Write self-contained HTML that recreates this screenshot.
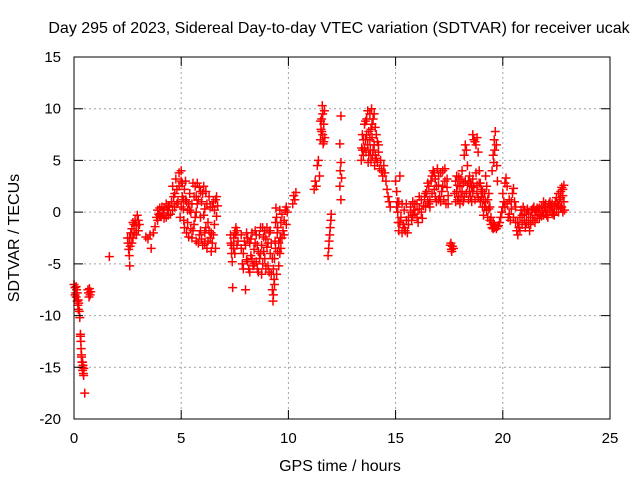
<!DOCTYPE html>
<html><head><meta charset="utf-8"><style>
html,body{margin:0;padding:0;background:#fff;}
svg{display:block;font-family:"Liberation Sans",sans-serif;}
</style></head><body>
<svg id="chart" width="640" height="480" viewBox="0 0 640 480" xmlns="http://www.w3.org/2000/svg">
<rect x="0" y="0" width="640" height="480" fill="#fff"/>
<g id="grid"></g>
<g id="points"></g>
<g id="axes"></g>
<text x="339" y="33" font-size="16" text-anchor="middle">Day 295 of 2023, Sidereal Day-to-day VTEC variation (SDTVAR) for receiver ucak</text>
<text x="340" y="471" font-size="16" text-anchor="middle">GPS time / hours</text>
<text x="19" y="238" font-size="16" text-anchor="middle" transform="rotate(-90 19 238)">SDTVAR / TECUs</text>
</svg>
<script>
const xTicks = [0, 5, 10, 15, 20, 25];
const yTicks = [-20, -15, -10, -5, 0, 5, 10, 15];
const gpsHours = [
0.0,0.05,0.08,0.1,0.12,0.15,0.18,0.2,0.22,0.25,0.27,0.3,0.32,0.33,0.35,0.37,0.38,0.4,0.42,0.44,0.46,0.5,0.65,0.68,0.7,0.72,0.75,0.78,
1.65,
2.5,2.52,2.55,2.58,2.6,2.62,2.65,2.7,2.75,2.8,2.85,2.9,2.95,3.0,3.05,
3.35,3.45,3.55,3.6,3.7,3.78,3.85,3.9,3.95,4.0,4.05,4.1,4.15,4.2,4.3,4.35,4.4,4.45,4.5,
4.55,4.6,4.65,4.7,4.75,4.8,4.85,4.9,4.95,5.0,5.05,5.1,5.12,5.15,5.2,5.25,5.3,5.35,5.4,5.45,5.5,5.55,5.6,5.65,5.7,5.75,5.8,5.85,5.9,5.95,6.0,6.05,6.1,6.15,6.2,6.25,6.3,6.35,6.4,6.45,6.5,6.55,6.6,6.65,6.7,5.0,5.2,5.4,5.5,5.7,5.9,6.1,
7.3,7.32,7.35,7.38,7.4,7.45,7.5,7.55,7.6,7.65,
7.8,7.85,7.9,7.95,8.0,8.05,8.1,8.15,8.2,8.25,8.3,8.35,8.4,8.45,8.5,8.55,8.6,8.65,8.7,8.75,8.8,8.85,8.9,8.95,9.0,9.05,9.1,9.15,
9.2,9.25,9.28,9.3,9.33,9.35,9.38,9.4,9.42,9.45,9.48,9.5,9.55,9.6,9.62,9.65,9.7,9.75,9.8,9.85,9.9,9.95,
10.2,10.25,10.3,10.35,
11.2,11.25,11.3,11.35,11.4,11.45,11.5,11.52,11.55,11.58,11.6,11.62,11.65,11.68,11.7,
11.85,11.88,11.9,11.93,11.95,11.98,12.0,
12.45,12.4,12.45,12.42,12.48,12.4,12.45,
13.4,13.42,13.45,13.5,13.55,13.6,13.62,13.65,13.7,13.72,13.75,13.8,13.82,13.85,13.88,13.9,13.92,13.95,14.0,14.02,14.05,14.1,14.15,14.2,14.25,
14.45,14.5,14.55,14.6,14.65,14.7,14.75,
15.0,15.05,15.08,15.1,15.12,15.15,15.2,15.25,15.3,15.35,15.4,15.45,15.5,15.55,
15.6,15.7,15.75,15.8,15.85,15.9,16.0,16.05,16.1,16.2,16.25,16.3,
16.35,16.4,16.45,16.5,16.55,16.6,16.65,16.7,16.75,16.8,16.85,16.9,16.95,17.0,17.05,17.1,17.15,17.2,17.25,17.3,17.35,17.4,17.45,
17.55,17.6,17.65,17.7,17.58,17.62,
17.75,17.8,17.85,17.9,17.95,18.0,18.05,18.1,18.15,18.2,18.25,18.3,18.35,18.4,18.45,18.5,18.55,18.6,18.65,18.7,18.75,18.8,18.85,18.9,18.95,19.0,19.05,19.1,19.15,19.2,19.25,19.3,19.35,19.4,19.45,19.5,19.55,19.6,19.5,19.55,19.6,19.65,19.7,19.72,19.75,18.2,18.4,18.6,18.8,17.9,18.0,19.0,19.2,
19.75,19.8,19.85,19.9,19.95,20.0,20.05,20.1,20.15,20.2,20.25,20.3,20.35,20.4,20.45,20.5,20.55,20.6,20.65,20.7,20.75,20.8,20.85,20.9,20.95,21.0,21.05,21.1,21.15,21.2,21.25,21.3,21.35,21.4,21.45,21.5,21.55,21.6,21.65,21.7,21.75,21.8,21.85,21.9,21.95,22.0,22.05,22.1,22.15,22.2,22.25,22.3,22.35,22.4,22.45,22.5,22.55,22.6,22.65,22.7,22.75,22.8,22.85,22.88,22.8,22.7
];
const sdtvar = [
-7.0,-7.3,-7.8,-8.2,-7.5,-8.6,-9.0,-9.4,-8.8,-9.6,-10.2,-11.8,-12.5,-13.2,-13.8,-14.5,-15.0,-15.3,-14.8,-15.6,-15.1,-17.5,-7.5,-7.8,-8.2,-7.4,-8.0,-7.7,
-4.3,
-2.5,-3.0,-3.6,-4.2,-5.2,-3.3,-2.0,-1.6,-1.0,-2.0,-0.8,-1.3,-0.3,-1.8,-1.2,
-2.4,-2.6,-2.2,-3.5,-2.0,-1.4,-0.5,0.2,-0.2,0.4,-0.4,0.5,-0.1,0.3,-0.5,0.2,-0.3,0.6,-0.2,
1.0,2.5,1.5,0.5,3.2,2.2,1.0,3.8,-0.5,4.0,2.8,1.2,-0.8,-1.5,3.0,-2.0,0.2,-2.4,1.8,-1.6,-2.5,2.8,-1.2,2.5,-2.8,0.8,-3.0,2.4,-1.8,1.0,-3.2,-0.3,-2.0,2.0,-3.5,-1.0,1.5,-2.5,-3.8,0.5,-2.2,0.2,1.2,-0.4,0.6,0.5,1.2,0.2,0.8,1.5,-0.5,0.3,
-2.2,-3.0,-4.0,-4.8,-7.3,-3.5,-2.0,-1.5,-3.2,-2.8,
-3.5,-5.0,-4.0,-2.8,-7.5,-4.6,-2.5,-5.5,-3.0,-4.2,-2.0,-5.2,-3.6,-1.8,-4.8,-3.2,-5.8,-2.2,-4.0,-6.0,-1.5,-3.8,-4.5,-2.6,-3.4,-5.2,-2.0,-4.0,
-6.0,-7.5,-8.6,-8.0,-6.5,-4.5,-2.8,-1.0,0.4,-0.5,-2.0,-3.8,-5.2,-4.0,-2.5,-1.0,-0.2,-1.8,-0.8,0.2,-1.2,0.0,
0.8,1.6,1.2,1.9,
2.2,3.0,2.5,4.5,5.0,3.5,7.0,8.0,9.0,10.3,7.5,6.6,8.5,9.8,7.2,
-4.2,-3.5,-2.8,-2.2,-1.5,-0.8,-0.2,
9.3,6.6,4.8,4.0,3.3,2.5,1.2,
5.0,6.2,7.5,5.5,8.5,7.0,5.8,9.0,6.5,4.8,7.8,9.5,6.0,8.0,10.0,7.2,5.5,9.0,6.5,4.5,8.2,5.2,6.8,5.8,4.2,
4.5,3.8,3.0,2.2,1.5,1.0,0.5,
3.0,2.0,1.0,0.0,-1.0,-1.8,3.5,-0.5,0.8,-1.2,0.2,-1.8,-0.8,-2.0,
-0.5,0.5,-0.8,1.0,0.2,-0.2,0.8,-1.0,0.3,1.2,-0.6,0.6,
1.5,0.5,2.0,1.0,2.5,1.2,3.0,1.8,4.0,2.2,3.2,1.0,4.2,2.6,1.5,3.8,2.0,4.0,1.2,3.0,0.8,2.4,1.6,
-3.2,-3.6,-3.3,-3.5,-3.0,-3.8,
1.8,3.0,2.0,1.2,3.4,2.5,1.5,4.0,2.8,5.5,6.5,6.0,4.5,3.0,2.0,1.5,2.5,7.5,7.0,6.8,6.5,7.2,5.8,4.0,2.8,1.5,0.5,-0.3,1.8,3.5,2.5,1.2,0.3,-0.8,-1.2,-1.5,-1.6,-1.5,4.0,5.5,7.0,7.8,6.5,4.5,3.0,1.5,1.2,2.0,1.8,2.6,0.8,2.2,1.0,
-1.4,-1.3,-1.0,-0.5,0.0,0.5,1.0,2.8,3.3,2.5,-0.5,1.2,-0.8,0.3,1.8,2.3,1.0,-1.0,-1.8,-2.2,-1.5,-0.5,0.2,-0.3,0.5,-0.8,-1.5,-0.2,0.3,-1.0,-1.8,-0.5,0.2,-0.8,0.5,-0.3,0.2,-0.6,0.0,0.4,-0.2,0.6,0.2,1.0,0.5,0.0,-0.3,0.4,0.8,0.2,0.6,0.0,-0.2,0.5,1.0,1.4,0.8,1.8,1.2,2.0,2.4,1.6,2.6,0.2,0.0,0.4
];
const extraSamples = [
[0.05,-8.0],[0.1,-7.2],[0.15,-7.8],[0.2,-8.5],[0.3,-12.0],[0.35,-14.0],[0.4,-14.5],[0.45,-15.8],
[2.6,-2.5],[2.7,-3.0],[2.8,-1.2],[2.9,-2.2],[3.0,-0.8],[2.75,-2.5],
[4.6,0.2],[4.7,1.8],[4.8,0.8],[4.9,2.5],[5.0,3.0],[5.05,1.5],[5.1,0.3],[5.15,2.2],[5.25,1.0],[5.3,-1.0],[5.35,0.8],[5.45,0.0],[5.55,-1.8],[5.6,1.5],[5.65,-0.5],[5.7,0.0],[5.75,2.8],[5.8,1.2],[5.85,-2.2],[5.9,2.0],[5.95,-2.6],[6.0,1.8],[6.05,2.5],[6.1,-3.0],[6.15,-1.5],[6.2,0.8],[6.25,-2.8],[6.3,-1.8],[6.35,0.5],[6.4,-2.0],[6.45,-3.0],[6.5,1.0],[6.55,-1.2],[6.6,-3.5],[6.65,1.5],[4.3,0.8],[4.2,-0.6],[4.0,-0.3],[3.9,-0.8],[4.4,0.5],
[7.35,-3.2],[7.45,-2.5],[7.5,-4.0],[7.55,-2.2],[7.6,-1.8],
[7.8,-2.2],[7.9,-5.5],[8.0,-3.2],[8.05,-2.0],[8.1,-4.8],[8.2,-5.8],[8.25,-2.6],[8.3,-4.5],[8.4,-5.0],[8.45,-3.0],[8.5,-2.2],[8.55,-5.5],[8.6,-3.8],[8.65,-4.5],[8.7,-1.5],[8.75,-3.2],[8.8,-5.0],[8.85,-2.4],[8.9,-1.8],[8.95,-5.5],[9.0,-1.5],[9.05,-3.0],[9.1,-5.8],[9.15,-1.8],[9.2,-3.0],[9.25,-4.5],[9.3,-5.5],[9.35,-7.0],[9.4,-3.5],[9.45,-6.0],[9.5,-1.5],[9.55,-3.0],[9.6,0.2],[9.65,-3.5],[9.7,-2.5],[9.8,-2.2],[9.9,0.5],
[11.55,7.8],[11.6,9.5],[11.65,6.8],[11.5,8.8],
[13.45,6.0],[13.5,7.0],[13.55,6.2],[13.6,8.8],[13.65,7.5],[13.7,9.8],[13.75,5.5],[13.8,7.0],[13.85,5.0],[13.9,8.5],[13.95,6.0],[14.0,9.5],[14.05,5.5],[14.1,7.5],[14.15,4.8],[14.2,6.5],[14.3,5.0],[14.35,4.0],[14.4,3.5],
[15.05,0.5],[15.15,1.0],[15.2,-1.0],[15.3,-2.0],[15.4,-1.5],[15.5,0.8],[15.6,-1.2],[15.7,0.0],[15.8,-0.3],[15.9,0.8],[16.0,-0.5],[16.1,1.5],[16.2,0.0],
[16.4,1.8],[16.5,2.8],[16.6,0.5],[16.7,3.5],[16.8,3.8],[16.9,2.5],[17.0,3.5],[17.0,1.2],[17.1,1.0],[17.2,2.5],[17.3,4.2],[17.4,3.2],[17.45,0.8],[16.55,0.8],[16.85,1.5],
[17.8,1.0],[17.85,3.5],[17.95,1.5],[18.05,3.2],[18.1,2.0],[18.15,1.0],[18.25,3.0],[18.3,1.8],[18.35,2.6],[18.45,3.5],[18.5,2.8],[18.55,1.0],[18.6,3.2],[18.65,2.4],[18.7,1.2],[18.75,3.8],[18.8,2.6],[18.85,1.4],[18.9,2.8],[18.95,1.0],[19.05,2.0],[19.1,1.2],[19.15,0.5],[19.25,0.2],[19.3,-0.5],[19.35,1.8],[19.4,0.5],[19.45,-0.5],[19.55,-1.0],[19.6,-1.2],[19.65,-1.4],[19.7,-1.6],[19.62,6.0],[19.58,4.8],
[20.0,1.8],[20.1,0.5],[20.2,0.8],[20.3,-0.2],[20.4,1.0],[20.5,-0.5],[20.6,0.5],[20.7,-1.0],[20.8,-1.8],[20.9,-1.2],[21.0,0.2],[21.1,-1.0],[21.2,0.0],[21.3,-1.2],[21.4,0.3],[21.5,-1.0],[21.6,0.4],[21.7,-0.6],[21.8,-0.4],[21.9,-0.3],[22.0,0.8],[22.1,-0.5],[22.2,1.0],[22.3,0.8],[22.4,-0.3],[22.5,0.3],[22.6,0.6],[22.7,1.4],[22.8,2.2],[22.85,1.0],[22.75,0.5],[22.6,0.0]
];
const NS = "http://www.w3.org/2000/svg";
const L = 74, R = 610, T = 57, B = 419;
function xScale(t){ return L + (t - 0) / 25 * (R - L); }
function yScale(v){ return B - (v + 20) / 35 * (B - T); }
function mk(tag, attrs){ const e = document.createElementNS(NS, tag); for (const k in attrs) e.setAttribute(k, attrs[k]); return e; }
const grid = document.getElementById('grid');
const axes = document.getElementById('axes');
const pts = document.getElementById('points');
xTicks.forEach(function(t){
  const x = xScale(t);
  if (t > 0 && t < 25) {
    const g = mk('line', {x1:x, y1:T, x2:x, y2:B, stroke:'#a0a0a0', 'stroke-width':1, 'stroke-dasharray':'2,3'});
    
    
    grid.appendChild(g);
  }
  const tk = mk('path', {d:'M'+x+' '+B+'v-9M'+x+' '+T+'v9', stroke:'#000', 'stroke-width':1});
  
  
  axes.appendChild(tk);
  const lb = mk('text', {x:x, y:B+24, 'font-size':15, 'text-anchor':'middle'});
  lb.textContent = t;
  
  
  axes.appendChild(lb);
});
yTicks.forEach(function(v){
  const y = yScale(v);
  if (v > -20 && v < 15) {
    const g = mk('line', {x1:L, y1:y, x2:R, y2:y, stroke:'#a0a0a0', 'stroke-width':1, 'stroke-dasharray':'2,3'});
    
    
    grid.appendChild(g);
  }
  const tk = mk('path', {d:'M'+L+' '+y+'h9M'+R+' '+y+'h-9', stroke:'#000', 'stroke-width':1});
  
  
  axes.appendChild(tk);
  const lb = mk('text', {x:L-13, y:y+5, 'font-size':15, 'text-anchor':'end'});
  lb.textContent = v;
  
  
  axes.appendChild(lb);
});
const frame = mk('rect', {x:L, y:T, width:R-L, height:B-T, fill:'none', stroke:'#000', 'stroke-width':1});


axes.appendChild(frame);
function drawPoint(t, v){
  const x = xScale(t), y = yScale(v);
  const p = mk('path', {d:'M'+(x-4.5)+' '+y+'h9M'+x+' '+(y-4.5)+'v9', stroke:'#ff0000', 'stroke-width':1.5});
  
  
  pts.appendChild(p);
}
for (let i = 0; i < gpsHours.length; i++) drawPoint(gpsHours[i], sdtvar[i]);
for (let i = 0; i < extraSamples.length; i++) drawPoint(extraSamples[i][0], extraSamples[i][1]);
</script>
</body></html>
